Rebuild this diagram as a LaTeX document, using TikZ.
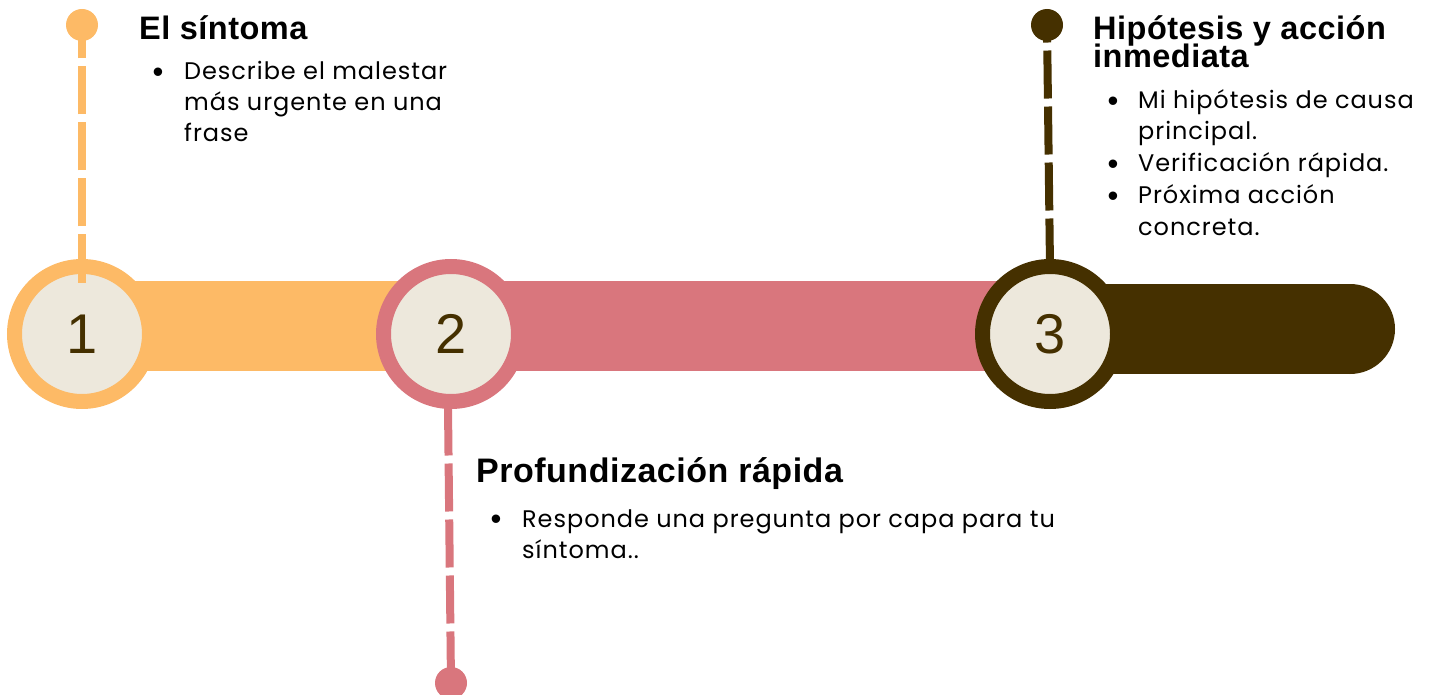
\documentclass[tikz,border=0pt]{standalone}
\usepackage{fontspec}
\setmainfont{Poppins}[LetterSpace=4]
\newfontfamily\headfont{Liberation Sans}[LetterSpace=1.5]
\newfontfamily\numfont{Liberation Sans}
\newfontfamily\bulfont{Liberation Sans}
\usetikzlibrary{calc}
\definecolor{corange}{HTML}{FDBA66}
\definecolor{cpink}{HTML}{D9767D}
\definecolor{cbrown}{HTML}{453000}
\definecolor{ccream}{HTML}{EDE8DC}
\tikzset{
  stepcircle/.style={circle, fill=ccream, line width=15pt, inner sep=0pt, outer sep=0pt,
    minimum size=135pt, text=cbrown, font=\numfont\fontsize{56}{56}\selectfont},
  enddot/.style={circle, inner sep=0pt, minimum size=32pt},
  dashline/.style={line width=8pt, dash pattern=on 48pt off 8pt},
  heading/.style={anchor=base west, inner sep=0pt, font=\headfont\bfseries\fontsize{32.5}{32}\selectfont},
  bodyline/.style={anchor=base west, inner sep=0pt, font=\fontsize{24}{24}\selectfont},
  bulletmark/.style={anchor=base, inner sep=0pt, yshift=-2.5pt, font=\bulfont\fontsize{31}{31}\selectfont}
}
\begin{document}
\begin{tikzpicture}[x=1pt,y=-1pt]
\useasboundingbox (0,0) rectangle (1435,695);
% bars
\fill[corange] (120,281) rectangle (420,371);
\fill[cpink] (480,281) rectangle (1010,371);
\fill[cbrown] (1090,284) rectangle (1350,374);
\fill[cbrown] (1350,329) circle[radius=45];
% circles
\node[stepcircle, draw=corange] (c1) at (82,334) {1};
\node[stepcircle, draw=cpink] (c2) at (451,334) {2};
\node[stepcircle, draw=cbrown] (c3) at (1050,334) {3};
% end dots
\node[enddot, fill=corange] (d1) at (82,25) {};
\node[enddot, fill=cpink] (d2) at (451,683) {};
\node[enddot, fill=cbrown] (d3) at (1047,25) {};
% dashed connectors
\draw[corange, dashline] ([yshift=-16pt]c1.north) -- (d1.center);
\draw[cpink, dashline] ([xshift=-3pt,yshift=-6pt]c2.south) -- (d2.center);
\draw[cbrown, dashline] (c3.north) -- (d3.center);
% block 1
\node[heading] (h1) at (139,40) {El síntoma};
\node[bulletmark] (b11) at (158,80) {•};
\node[bodyline] (t11) at (184,80) {Describe el malestar};
\node[bodyline] (t12) at (184,111) {más urgente en una};
\node[bodyline] (t13) at (184,142) {frase};
% block 2
\node[heading, font=\headfont\bfseries\fontsize{34}{34}\selectfont] (h2) at (476,482) {Profundización rápida};
\node[bulletmark] (b21) at (496,527) {•};
\node[bodyline] (t21) at (522,527) {Responde una pregunta por capa para tu};
\node[bodyline] (t22) at (522,558) {síntoma..};
% block 3
\node[heading] (h31) at (1093,40) {Hipótesis y acción};
\node[heading] (h32) at (1093,68) {inmediata};
\node[bulletmark] (b31) at (1113,109) {•};
\node[bodyline] (t31) at (1138,109) {Mi hipótesis de causa};
\node[bodyline] (t32) at (1138,140) {principal.};
\node[bulletmark] (b32) at (1113,172) {•};
\node[bodyline] (t33) at (1138,172) {Verificación rápida.};
\node[bulletmark] (b33) at (1113,204) {•};
\node[bodyline] (t34) at (1138,204) {Próxima acción};
\node[bodyline] (t35) at (1138,236) {concreta.};
\end{tikzpicture}
\end{document}
